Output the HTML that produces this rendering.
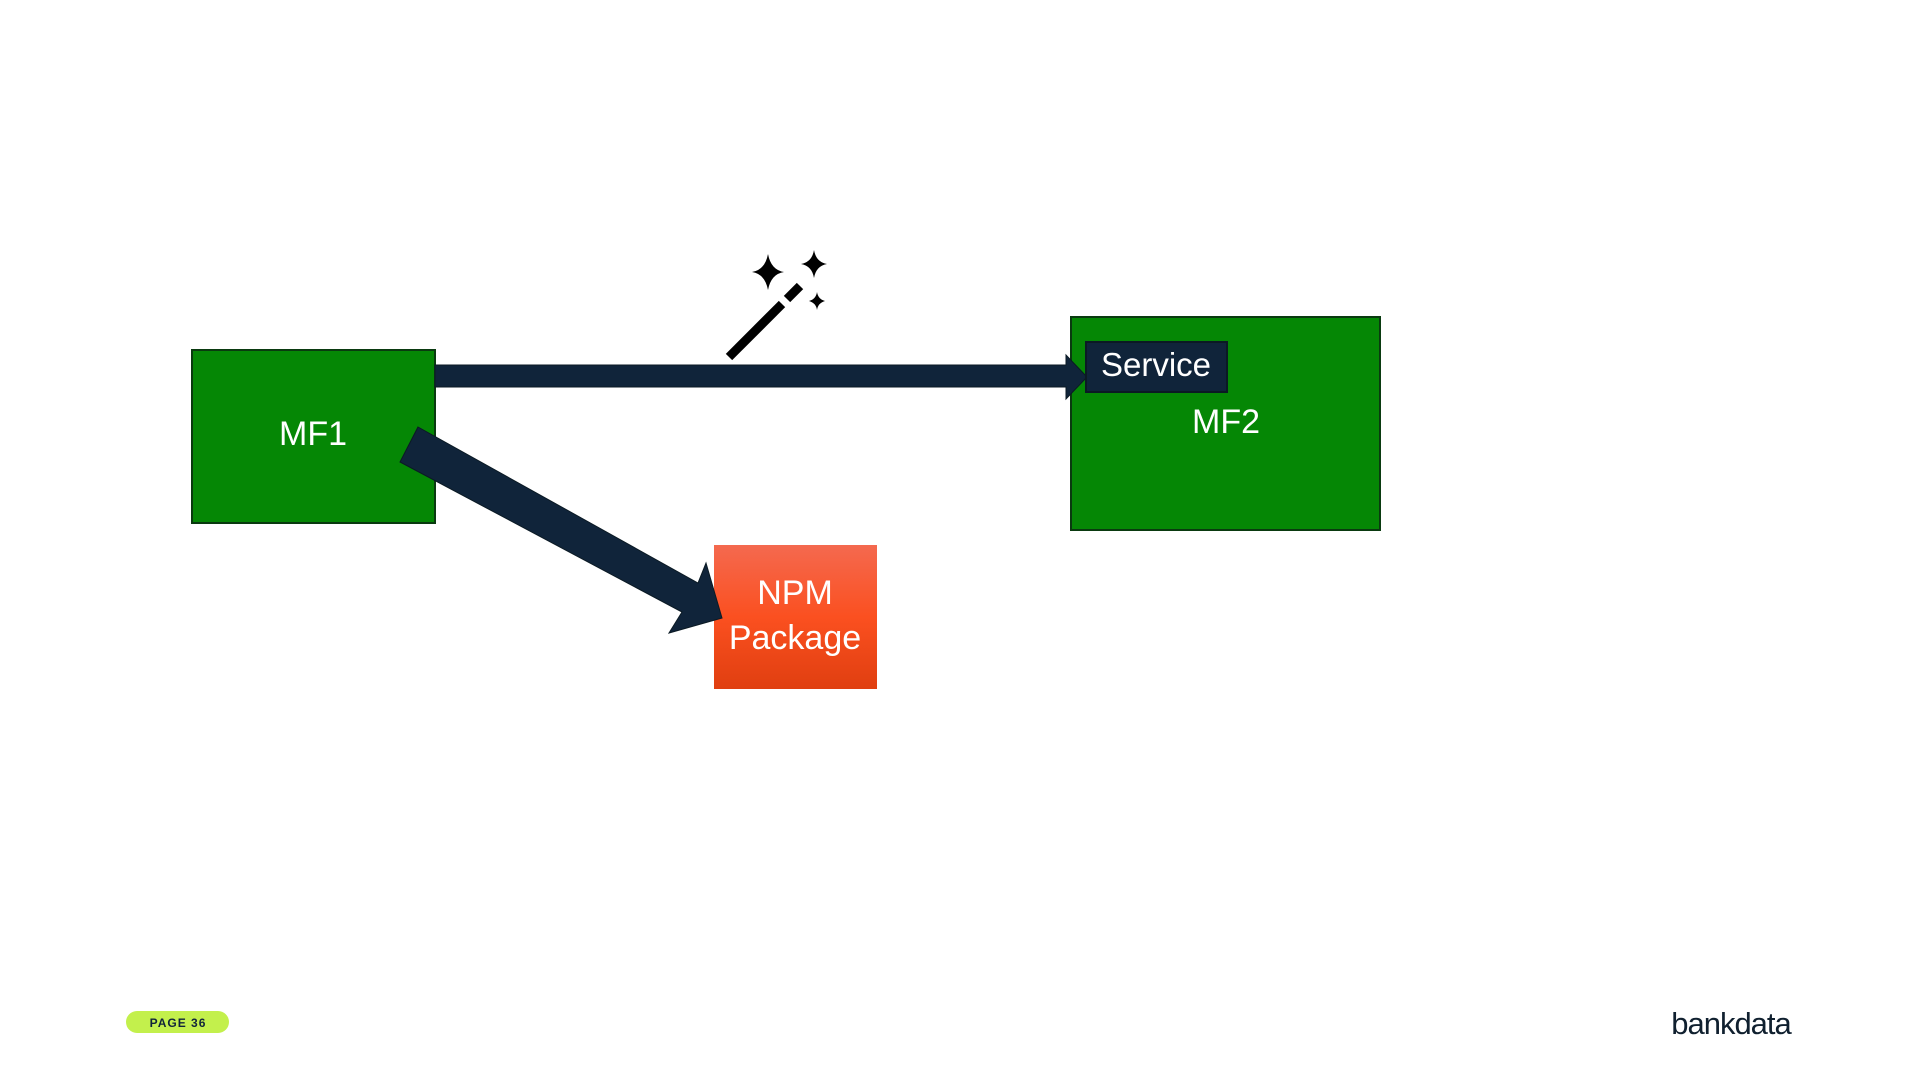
<!DOCTYPE html>
<html><head><meta charset="utf-8"><style>
html,body{margin:0;padding:0;width:1920px;height:1080px;background:#fff;overflow:hidden;font-family:"Liberation Sans","DejaVu Sans",sans-serif}
</style></head><body>
<svg width="1920" height="1080" viewBox="0 0 1920 1080" xmlns="http://www.w3.org/2000/svg">
<defs><linearGradient id="g" x1="0" y1="0" x2="0" y2="1"><stop offset="0" stop-color="#f4694f"/><stop offset="0.5" stop-color="#fb5020"/><stop offset="1" stop-color="#e03f10"/></linearGradient></defs>
<rect x="192" y="350" width="243" height="173" fill="#058705" stroke="#0a3a10" stroke-width="2"/>
<text x="313" y="445" fill="#fff" font-size="34" text-anchor="middle">MF1</text>
<rect x="1071" y="317" width="309" height="213" fill="#058705" stroke="#0a3a10" stroke-width="2"/>
<text x="1226" y="433" fill="#fff" font-size="34" text-anchor="middle">MF2</text>
<rect x="714" y="545" width="163" height="144" fill="url(#g)"/>
<text x="795" y="604" fill="#fff" font-size="34" text-anchor="middle">NPM</text>
<text x="795" y="649" fill="#fff" font-size="34" text-anchor="middle">Package</text>
<polygon points="435,365 1066,365 1066,355 1087,377 1066,399 1066,387 435,387" fill="#10243a" stroke="#0b1a24" stroke-width="1"/>
<polygon points="418,427 698,583 706,563 722,618 669,633 682,612 400,462" fill="#10243a" stroke="#0b1a24" stroke-width="1"/>
<rect x="1086" y="342" width="141" height="50" fill="#10243a" stroke="#0b1a24" stroke-width="2"/>
<text x="1156" y="376" fill="#fff" font-size="33" text-anchor="middle">Service</text>
<line x1="729" y1="357" x2="782" y2="304" stroke="#000" stroke-width="9"/>
<line x1="787" y1="299" x2="800" y2="286" stroke="#000" stroke-width="9"/>
<path d="M768,254 Q771,270 784,272 Q771,274 768,290 Q765,274 752,272 Q765,270 768,254Z" fill="#000"/>
<path d="M814,250 Q816,262 827,264 Q816,266 814,278 Q812,266 801,264 Q812,262 814,250Z" fill="#000"/>
<path d="M817,292 Q818,299 825,301 Q818,303 817,310 Q816,303 809,301 Q816,299 817,292Z" fill="#000"/>
<rect x="126" y="1011" width="103" height="22" rx="11" fill="#c3f04c"/>
<text x="178" y="1027" fill="#10243a" font-size="12" text-anchor="middle" font-weight="bold" letter-spacing="1">PAGE 36</text>
<text x="1731" y="1034" fill="#10202f" font-size="31" text-anchor="middle" letter-spacing="-1">bankdata</text>
</svg>
</body></html>
